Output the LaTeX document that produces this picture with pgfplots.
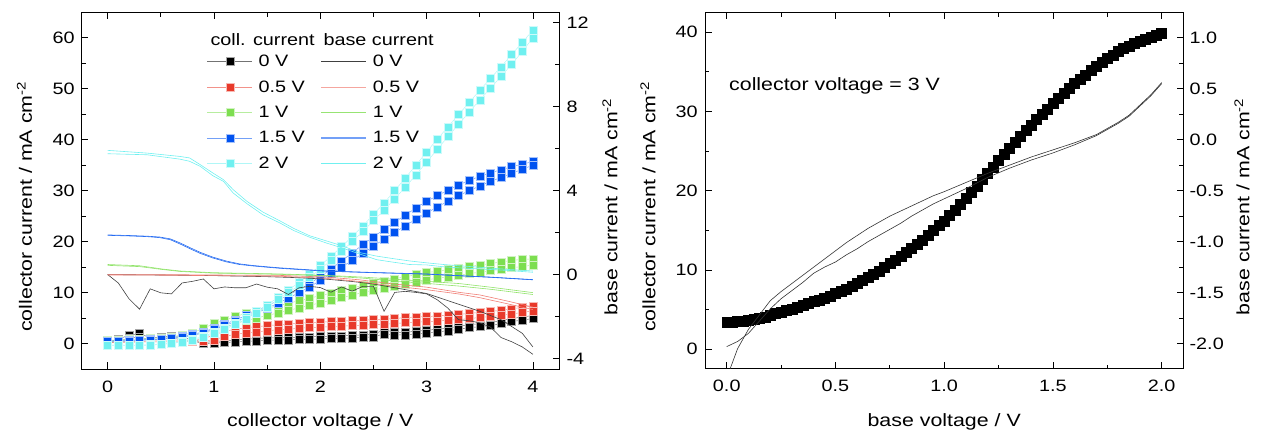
\documentclass[border=0pt]{standalone}
\usepackage{pgfplots}
\pgfplotsset{compat=1.18}
\usepackage{pgfplotstable}
\usepackage{fontspec}
\setmainfont{Liberation Sans}[FakeStretch=1.2]
\definecolor{cR}{RGB}{232,57,42}
\definecolor{cG}{RGB}{125,222,80}
\definecolor{cB}{RGB}{0,82,240}
\definecolor{cC}{RGB}{112,240,240}
\newcommand{\tickfont}{\fontsize{16.5}{18}\selectfont}
\newcommand{\labfont}{\fontsize{17.8}{20}\selectfont}

\pgfplotstableread{
x   kA  kB  rA  rB  gA   gB   bA   bB   cA   cB
0.0 0.2 0.0 0.4 0.2 0.6  0.4  0.5  0.4  -0.3 -0.4
0.1 0.9 0.5 0.4 0.2 0.7  0.5  0.5  0.4  -0.3 -0.4
0.2 1.6 1.0 0.4 0.2 0.8  0.6  0.6  0.5  -0.3 -0.4
0.3 2.0 1.3 0.4 0.3 0.9  0.7  0.7  0.6  -0.3 -0.4
0.4 1.1 0.7 0.5 0.3 1.0  0.8  0.8  0.7  -0.2 -0.3
0.5 1.3 0.9 0.5 0.3 1.1  0.9  0.9  0.8  -0.1 -0.2
0.6 1.4 1.0 0.5 0.3 1.3  1.1  1.1  1.0  0.1  0.0
0.7 1.2 0.8 0.5 0.3 1.7  1.3  1.4  1.2  0.4  0.3
0.8 0.8 0.5 0.6 0.4 2.1  1.7  1.8  1.6  0.8  0.6
0.9 0.2 0.0 0.9 0.5 3.0  2.0  2.3  2.1  1.4  1.2
1.0 0.4 0.1 1.7 0.7 3.9  2.5  3.0  2.8  2.2  2.0
1.1 0.5 0.2 2.4 1.4 4.6  3.2  3.8  3.5  3.0  2.8
1.2 0.7 0.3 2.8 1.8 5.3  3.9  4.6  4.3  4.0  3.7
1.3 0.8 0.4 3.1 2.1 5.9  4.5  5.5  5.1  5.1  4.8
1.4 1.0 0.5 3.3 2.3 6.4  5.0  6.4  6.0  6.3  6.0
1.5 1.1 0.6 3.5 2.5 6.9  5.5  7.4  6.9  7.6  7.2
1.6 1.1 0.7 3.7 2.7 7.4  6.0  8.4  7.9  9.0  8.6
1.7 1.2 0.7 3.8 2.8 7.9  6.5  9.5  8.9  10.5 10.0
1.8 1.2 0.8 4.0 3.0 8.4  7.0  10.6 10.0 12.0 11.4
1.9 1.3 0.8 4.1 3.1 8.9  7.5  11.8 11.1 13.6 13.0
2.0 1.4 0.9 4.2 3.2 9.4  8.0  13.1 12.4 15.3 14.6
2.1 1.4 1.0 4.3 3.3 9.9  8.5  14.6 13.7 17.1 16.3
2.2 1.5 1.0 4.4 3.4 10.4 9.0  16.2 15.0 19.0 18.1
2.3 1.6 1.1 4.5 3.5 10.9 9.5  17.8 16.3 21.0 20.0
2.4 1.7 1.2 4.6 3.6 11.4 10.0 19.4 17.7 23.1 22.0
2.5 1.8 1.3 4.7 3.7 11.9 10.5 20.9 19.1 25.3 24.1
2.6 2.7 1.9 4.8 3.8 12.3 10.9 22.4 20.5 27.6 26.2
2.7 2.2 1.7 4.9 3.9 12.7 11.3 23.8 21.8 30.0 28.4
2.8 2.2 1.7 5.1 4.1 13.1 11.7 25.2 23.1 32.5 30.7
2.9 2.4 1.9 5.2 4.2 13.5 12.1 26.6 24.4 35.0 33.1
3.0 2.6 2.1 5.3 4.3 13.9 12.5 27.9 25.6 37.6 35.6
3.1 2.8 2.3 5.4 4.4 14.2 12.8 29.0 26.8 40.1 38.1
3.2 3.0 2.5 5.6 4.6 14.5 13.1 30.1 27.9 42.5 40.6
3.3 3.4 2.8 5.7 4.7 14.8 13.4 31.1 29.0 44.9 43.0
3.4 3.7 3.1 5.9 4.9 15.1 13.7 32.0 30.0 47.3 45.4
3.5 3.9 3.3 6.1 5.1 15.4 14.0 32.8 30.9 49.7 47.8
3.6 4.1 3.5 6.3 5.3 15.7 14.3 33.5 31.8 52.0 50.1
3.7 4.5 3.9 6.5 5.5 16.0 14.6 34.1 32.6 54.3 52.4
3.8 4.9 4.3 6.8 5.8 16.3 14.9 34.7 33.4 56.7 54.8
3.9 5.2 4.6 7.1 6.1 16.5 15.1 35.2 34.2 59.1 57.3
4.0 5.5 4.9 7.4 6.4 16.6 15.4 35.7 35.0 61.5 60.0
}\coll

\pgfplotstableread{
x y
0.000 3.40
0.025 3.42
0.050 3.48
0.075 3.55
0.100 3.65
0.125 3.76
0.150 3.90
0.175 4.08
0.200 4.28
0.225 4.48
0.250 4.68
0.275 4.89
0.300 5.10
0.325 5.32
0.350 5.54
0.375 5.77
0.400 6.00
0.425 6.24
0.450 6.49
0.475 6.74
0.500 7.00
0.525 7.31
0.550 7.63
0.575 7.96
0.600 8.30
0.625 8.69
0.650 9.09
0.675 9.50
0.700 9.90
0.725 10.34
0.750 10.79
0.775 11.24
0.800 11.70
0.825 12.21
0.850 12.73
0.875 13.26
0.900 13.80
0.925 14.39
0.950 14.99
0.975 15.59
1.000 16.20
1.025 16.89
1.050 17.59
1.075 18.29
1.100 19.00
1.125 19.79
1.150 20.59
1.175 21.40
1.200 22.20
1.225 23.00
1.250 23.80
1.275 24.60
1.300 25.40
1.325 26.13
1.350 26.86
1.375 27.58
1.400 28.30
1.425 28.98
1.450 29.65
1.475 30.33
1.500 31.00
1.525 31.63
1.550 32.26
1.575 32.88
1.600 33.50
1.625 34.06
1.650 34.61
1.675 35.16
1.700 35.70
1.725 36.18
1.750 36.66
1.775 37.13
1.800 37.60
1.825 37.94
1.850 38.27
1.875 38.59
1.900 38.90
1.925 39.13
1.950 39.36
1.975 39.58
2.000 39.80
}\rcoll

\pgfplotsset{
  base/.style={
    scale only axis, width=478.4pt, height=356.7pt,
    tick align=inside, major tick length=6.5pt, minor tick length=4.4pt,
    every tick/.style={black, line width=0.8pt},
    axis line style={line width=1pt},
    tick label style={font=\tickfont},
    label style={font=\labfont},
    /pgf/number format/assume math mode=true,
  },
  sq/.style={mark=square*, mark size=4pt, line width=0.5pt, color=#1!55,
    mark options={fill=#1, draw=#1!35, line width=0.5pt}},
}

\begin{document}
\begin{tikzpicture}[x=1pt,y=1pt]
\useasboundingbox (0,0) rectangle (1270,434);

% ---------------- left panel: collector current ----------------
\begin{axis}[base, at={(81.1pt,65pt)}, anchor=south west,
  xmin=-0.25, xmax=4.25, ymin=-5, ymax=65,
  xtick={0,1,2,3,4}, minor x tick num=1, xtick pos=both, xticklabel pos=lower,
  ytick={0,10,20,30,40,50,60}, minor y tick num=1, ytick pos=left,
  xlabel={collector voltage / V},
  ylabel={collector current / mA cm\textsuperscript{-2}},
  xlabel style={at={(axis description cs:0.5,-0.1626)}, anchor=base},
  ylabel style={at={(axis description cs:-0.1183,0.455)}, anchor=center},
  xticklabel style={anchor=base, yshift=-23pt},
  yticklabel style={xshift=-3pt},
]
\addplot[sq=black] table[x=x,y=kA]{\coll};
\addplot[sq=black] table[x=x,y=kB]{\coll};
\addplot[sq=cR] table[x=x,y=rA]{\coll};
\addplot[sq=cR] table[x=x,y=rB]{\coll};
\addplot[sq=cG] table[x=x,y=gA]{\coll};
\addplot[sq=cG] table[x=x,y=gB]{\coll};
\addplot[sq=cB] table[x=x,y=bA]{\coll};
\addplot[sq=cB] table[x=x,y=bB]{\coll};
\addplot[sq=cC] table[x=x,y=cA]{\coll};
\addplot[sq=cC] table[x=x,y=cB]{\coll};
\end{axis}

% ---------------- left panel: base current ----------------
\begin{axis}[base, at={(81.1pt,65pt)}, anchor=south west,
  xmin=-0.25, xmax=4.25, ymin=-4.5, ymax=12.5,
  hide x axis,
  ytick={-4,0,4,8,12}, minor y tick num=1, ytick pos=right, yticklabel pos=right,
  ylabel={base current / mA cm\textsuperscript{-2}},
  ylabel style={at={(axis description cs:1.1056,0.455)}, anchor=center},
  yticklabel style={xshift=3.5pt},
  legend columns=2,
  legend cell align=left,
  legend style={draw=none, fill=none, at={(axis description cs:0.2632,0.8803)},
    anchor=north west, font=\tickfont, inner sep=0pt, row sep=12.5pt,
    nodes={inner sep=0pt},
    /tikz/every odd column/.append style={column sep=6pt},
    /tikz/every even column/.append style={column sep=15.5pt}},
  legend image code/.code={\draw[mark repeat=2,mark phase=2,#1] plot coordinates {(0pt,0pt) (22.5pt,0pt) (45pt,0pt)};},
]
\addlegendimage{sq=black}\addlegendentry{0 V}
\addlegendimage{black!75, line width=0.7pt}\addlegendentry{0 V}
\addlegendimage{sq=cR}\addlegendentry{0.5 V}
\addlegendimage{cR!45, line width=1.4pt}\addlegendentry{0.5 V}
\addlegendimage{sq=cG}\addlegendentry{1 V}
\addlegendimage{cG!80, line width=0.7pt}\addlegendentry{1 V}
\addlegendimage{sq=cB}\addlegendentry{1.5 V}
\addlegendimage{cB!55, line width=1.4pt}\addlegendentry{1.5 V}
\addlegendimage{sq=cC}\addlegendentry{2 V}
\addlegendimage{cC, line width=0.7pt}\addlegendentry{2 V}

\addplot[forget plot, black!75, line width=0.6pt] coordinates {(0,0) (0.1,-0.4) (0.2,-1.15) (0.3,-1.65) (0.4,-0.68) (0.5,-0.87) (0.6,-0.92) (0.7,-0.4) (0.8,-0.32) (0.9,-0.21) (1.0,-0.68) (1.1,-0.59) (1.2,-0.63) (1.3,-0.63) (1.4,-0.45) (1.5,-0.6) (1.6,-0.68) (1.7,-0.95) (1.8,-0.63) (1.9,-0.56) (2.0,-0.62) (2.1,-0.84) (2.2,-0.59) (2.3,-0.79) (2.4,-0.56) (2.5,-0.56) (2.6,-1.75) (2.7,-0.85) (2.8,-0.8) (2.9,-0.85) (3.0,-0.92) (3.1,-1.2) (3.2,-1.6) (3.3,-2.15) (3.4,-2.2) (3.5,-2.3) (3.6,-2.5) (3.7,-3.0) (3.8,-3.2) (3.9,-3.45) (4.0,-3.8)};
\addplot[forget plot, black!75, line width=0.6pt] coordinates {(0,0) (0.5,-0.02) (1.0,-0.05) (1.5,-0.1) (1.8,-0.15) (2.06,-0.22) (2.3,-0.33) (2.5,-0.45) (2.78,-0.7) (3.0,-0.9) (3.31,-1.43) (3.5,-1.75) (3.7,-2.15) (3.9,-2.8) (4.0,-3.45)};
\addplot[forget plot, cR!65, line width=0.6pt] coordinates {(0,0.0) (0.5,0.0) (1.0,-0.02) (1.62,-0.04) (2.06,-0.12) (2.37,-0.25) (2.69,-0.45) (3.0,-0.6) (3.31,-0.85) (3.5,-0.97) (3.75,-1.25) (4.0,-1.55)};
\addplot[forget plot, cR!65, line width=0.6pt] coordinates {(0,-0.02) (0.5,-0.03) (1.0,-0.05) (1.62,-0.08) (2.06,-0.18) (2.37,-0.33) (2.69,-0.55) (3.0,-0.72) (3.31,-0.93) (3.5,-1.1) (3.75,-1.38) (4.0,-1.67)};
\addplot[forget plot, cG!85, line width=0.6pt] coordinates {(0,0.48) (0.3,0.42) (0.52,0.26) (0.68,0.17) (0.99,0.09) (1.62,0.03) (2.06,-0.04) (2.4,-0.12) (2.69,-0.22) (3.0,-0.32) (3.31,-0.43) (3.6,-0.6) (4.0,-0.86)};
\addplot[forget plot, cG!85, line width=0.6pt] coordinates {(0,0.44) (0.3,0.38) (0.52,0.24) (0.68,0.15) (0.99,0.07) (1.62,0.01) (2.06,-0.06) (2.4,-0.17) (2.69,-0.3) (3.0,-0.42) (3.31,-0.55) (3.6,-0.7) (4.0,-0.95)};
\addplot[forget plot, cB!85, line width=0.6pt] coordinates {(0,1.89) (0.21,1.86) (0.37,1.83) (0.49,1.79) (0.59,1.70) (0.68,1.51) (0.78,1.27) (0.87,1.06) (0.99,0.83) (1.12,0.64) (1.24,0.51) (1.37,0.43) (1.5,0.37) (1.62,0.32) (1.8,0.26) (2.06,0.17) (2.5,0.1) (3.0,0.03) (3.31,-0.05) (3.6,-0.12) (4.0,-0.24)};
\addplot[forget plot, cB!85, line width=0.6pt] coordinates {(0,1.87) (0.21,1.84) (0.37,1.81) (0.49,1.76) (0.59,1.66) (0.68,1.46) (0.78,1.22) (0.87,1.01) (0.99,0.79) (1.12,0.6) (1.24,0.48) (1.37,0.41) (1.5,0.35) (1.62,0.3) (1.8,0.24) (2.06,0.16) (2.5,0.09) (3.0,0.02) (3.31,-0.06) (3.6,-0.13) (4.0,-0.25)};
\addplot[forget plot, cC, line width=0.6pt] coordinates {(0,5.92) (0.37,5.79) (0.68,5.63) (0.77,5.56) (0.87,5.24) (0.99,4.84) (1.09,4.52) (1.18,4.05) (1.31,3.49) (1.46,2.98) (1.62,2.56) (1.75,2.2) (1.9,1.85) (2.06,1.6) (2.2,1.38) (2.37,1.05) (2.53,0.88) (2.7,0.75) (2.84,0.65) (3.0,0.56) (3.16,0.48) (3.31,0.42) (3.5,0.35) (3.75,0.25) (4.0,0.17)};
\addplot[forget plot, cC, line width=0.6pt] coordinates {(0,5.76) (0.37,5.71) (0.68,5.5) (0.77,5.4) (0.87,5.16) (0.99,4.71) (1.09,4.44) (1.18,3.89) (1.31,3.38) (1.46,2.85) (1.62,2.46) (1.75,2.1) (1.9,1.78) (2.06,1.5) (2.2,1.28) (2.37,0.98) (2.53,0.71) (2.7,0.58) (2.84,0.48) (3.0,0.46) (3.16,0.37) (3.31,0.32) (3.5,0.27) (3.75,0.2) (4.0,0.11)};

\node[anchor=base west, font=\tickfont] at (axis description cs:0.2632,0.9083) {coll. current};
\node[anchor=base west, font=\tickfont] at (axis description cs:0.4994,0.9083) {base current};
\end{axis}

% ---------------- right panel: collector current ----------------
\begin{axis}[base, at={(705pt,65pt)}, anchor=south west,
  xmin=-0.1, xmax=2.1, ymin=-2.5, ymax=42.5,
  xtick={0,0.5,1,1.5,2}, minor x tick num=1, xtick pos=both, xticklabel pos=lower,
  ytick={0,10,20,30,40}, minor y tick num=1, ytick pos=left,
  xticklabel style={anchor=base, yshift=-23pt, /pgf/number format/.cd, fixed, fixed zerofill, precision=1},
  yticklabel style={xshift=-3.9pt},
  xlabel={base voltage / V},
  ylabel={collector current / mA cm\textsuperscript{-2}},
  xlabel style={at={(axis description cs:0.5,-0.1626)}, anchor=base},
  ylabel style={at={(axis description cs:-0.1191,0.455)}, anchor=center},
]
\addplot[only marks, mark=square*, mark size=5pt, black] table[x=x,y=y]{\rcoll};
\node[anchor=base west, font=\labfont] at (axis cs:-0.005,32.6) {collector voltage = 3 V};
\end{axis}

% ---------------- right panel: base current ----------------
\begin{axis}[base, at={(705pt,65pt)}, anchor=south west,
  xmin=-0.1, xmax=2.1, ymin=-2.25, ymax=1.25,
  hide x axis,
  ytick={-2,-1.5,-1,-0.5,0,0.5,1}, minor y tick num=1, ytick pos=right, yticklabel pos=right,
  yticklabel style={xshift=2.7pt, /pgf/number format/.cd, fixed, fixed zerofill, precision=1},
  ylabel={base current / mA cm\textsuperscript{-2}},
  ylabel style={at={(axis description cs:1.1225,0.455)}, anchor=center},
]
\addplot[black!80, line width=0.6pt] coordinates {(0.01,-2.28) (0.05,-2.05) (0.1,-1.86) (0.15,-1.72) (0.2,-1.58) (0.25,-1.49) (0.3,-1.41) (0.35,-1.33) (0.4,-1.25) (0.45,-1.17) (0.5,-1.09) (0.55,-1.01) (0.6,-0.94) (0.65,-0.87) (0.7,-0.81) (0.75,-0.75) (0.8,-0.70) (0.85,-0.65) (0.9,-0.60) (0.95,-0.55) (1.0,-0.51) (1.1,-0.42) (1.2,-0.33) (1.3,-0.25) (1.4,-0.17) (1.5,-0.10) (1.6,-0.03) (1.7,0.05) (1.8,0.17) (1.85,0.24) (1.9,0.34) (1.95,0.44) (2.0,0.56)};
\addplot[black!80, line width=0.6pt] coordinates {(0,-2.03) (0.05,-1.98) (0.1,-1.90) (0.15,-1.78) (0.2,-1.66) (0.25,-1.56) (0.3,-1.48) (0.35,-1.40) (0.4,-1.31) (0.45,-1.25) (0.5,-1.20) (0.55,-1.13) (0.6,-1.07) (0.65,-1.00) (0.7,-0.94) (0.75,-0.88) (0.8,-0.82) (0.85,-0.75) (0.9,-0.69) (0.95,-0.63) (1.0,-0.58) (1.1,-0.48) (1.2,-0.37) (1.3,-0.28) (1.4,-0.20) (1.5,-0.13) (1.6,-0.05) (1.7,0.04) (1.8,0.16) (1.85,0.23) (1.9,0.33) (1.95,0.43) (2.0,0.55)};
\end{axis}
\end{tikzpicture}
\end{document}
